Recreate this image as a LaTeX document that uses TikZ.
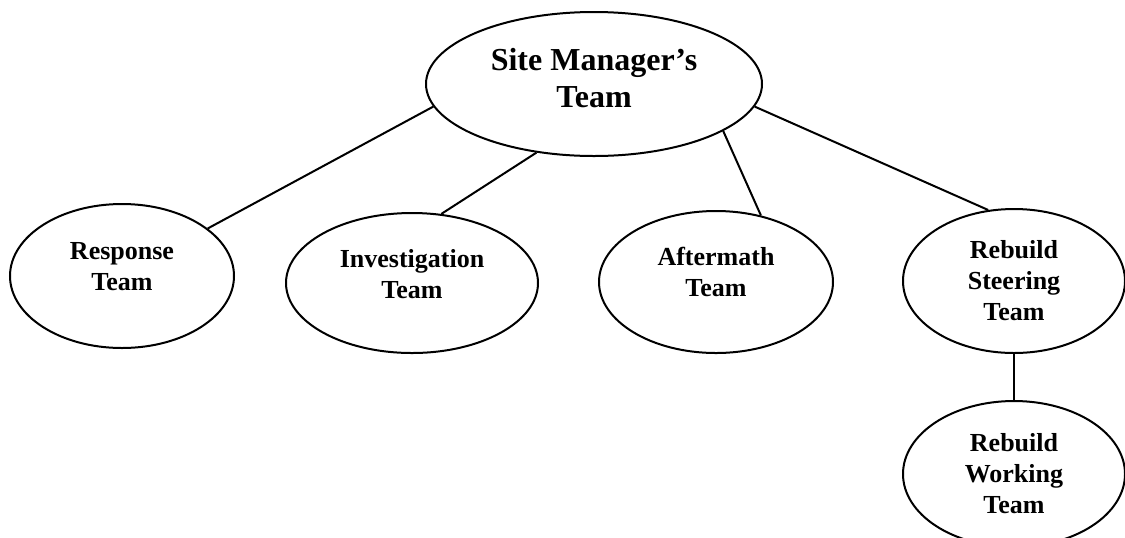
\documentclass[tikz,border=0pt]{standalone}
\usepackage{fontspec}
\setmainfont{Liberation Serif}
\usetikzlibrary{shapes.geometric}
\begin{document}
\begin{tikzpicture}[x=0.5pt,y=-0.5pt,line width=1pt,
                        team/.style={draw,ellipse,inner sep=0pt,align=center,
                            font=\bfseries\fontsize{13}{15.5}\selectfont}]
                        \useasboundingbox (0,0) rectangle (1125,537);
                        \node[team,minimum width=168pt,minimum height=72pt,text depth=6.5pt,
                            font=\bfseries\fontsize{16}{18.5}\selectfont] (site) at (594,84) {Site Manager's\\Team};
                        \node[team,minimum width=112pt,minimum height=72pt,text depth=10pt] (resp) at (122,276) {Response\\Team};
                        \node[team,minimum width=126pt,minimum height=70pt,text depth=9pt] (inv) at (412,283) {Investigation\\Team};
                        \node[team,minimum width=117pt,minimum height=71pt,text depth=10pt] (after) at (716,282) {Aftermath\\Team};
                        \node[team,minimum width=111pt,minimum height=72pt] (steer) at (1014,281) {Rebuild\\Steering\\Team};
                        \node[team,minimum width=111pt,minimum height=73pt] (work) at (1014,474) {Rebuild\\Working\\Team};
                        \draw (site.188) -- (resp.29);
                        \draw (site.230) -- (inv.67);
                        \draw (site.340) -- (after.56);
                        \draw (site.352) -- (steer.110);
                        \draw (steer.south) -- (work.north);
                    \end{tikzpicture}
\end{document}
